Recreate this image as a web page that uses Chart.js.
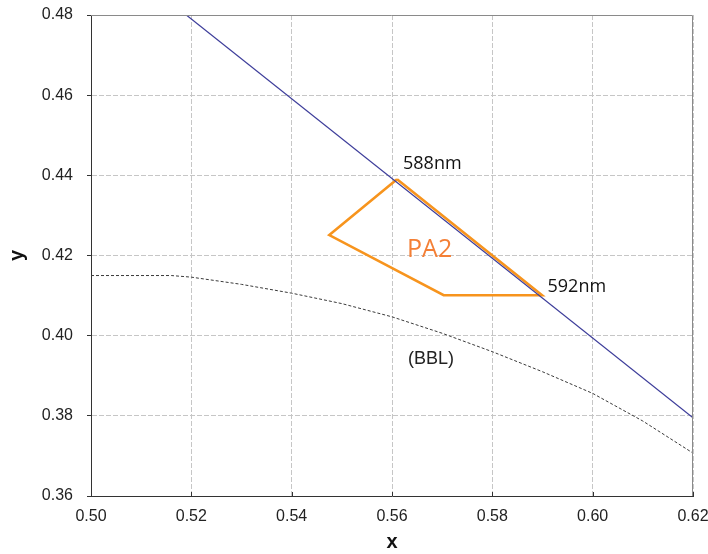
<!DOCTYPE html>
<html>
<head>
<meta charset="utf-8">
<script src="https://cdn.jsdelivr.net/npm/chart.js@4.4.0/dist/chart.umd.min.js"></script>
<style>
  html, body { margin: 0; padding: 0; background: #ffffff; }
  #wrap { width: 708px; height: 554px; }
</style>
</head>
<body>
<div id="wrap"><canvas id="c" width="708" height="554"></canvas></div>
<script>
// ---- Data ----
const xTicks = [0.50, 0.52, 0.54, 0.56, 0.58, 0.60, 0.62];
const yTicks = [0.36, 0.38, 0.40, 0.42, 0.44, 0.46, 0.48];

// Spectrum locus segment (blue line)
const locusX = [0.519, 0.620];
const locusY = [0.480, 0.3795];

// Black body locus (dotted)
const bblX = [0.500, 0.516, 0.520, 0.530, 0.540, 0.550, 0.560, 0.570, 0.580, 0.590, 0.600, 0.610, 0.620];
const bblY = [0.4150, 0.4150, 0.4146, 0.4128, 0.4106, 0.4080, 0.4047, 0.4006, 0.3960, 0.3910, 0.3856, 0.3787, 0.3707];

// PA2 region polygon (closed)
const pa2X = [0.5610, 0.5475, 0.5703, 0.5899, 0.5610];
const pa2Y = [0.4390, 0.4251, 0.4101, 0.4101, 0.4390];

// Text labels: text, x, y (data coords)
const labelTexts = ['588nm', '592nm', 'PA2', '(BBL)'];
const labelX = [0.5622, 0.5910, 0.5630, 0.5632];
const labelY = [0.4428, 0.4121, 0.4214, 0.3942];

const toPts = (xs, ys) => xs.map((x, i) => ({ x: x, y: ys[i] }));

const labelStyles = [
  { font: '18px "Open Sans", "Noto Sans", sans-serif', color: '#111111' },
  { font: '18px "Open Sans", "Noto Sans", sans-serif', color: '#111111' },
  { font: '25px "Open Sans", "Noto Sans", sans-serif', color: '#F47F35' },
  { font: '18px "Liberation Sans", Arial, sans-serif', color: '#222222' }
];

const overlayPlugin = {
  id: 'overlay',
  afterDraw(chart) {
    const { ctx, chartArea: a, scales: { x, y } } = chart;
    ctx.save();
    // frame (top & right)
    ctx.strokeStyle = '#8a8a8a';
    ctx.lineWidth = 1;
    ctx.beginPath();
    ctx.moveTo(a.left, a.top + 0.5);
    ctx.lineTo(a.right - 0.5, a.top + 0.5);
    ctx.lineTo(a.right - 0.5, a.bottom);
    ctx.stroke();
    // inward ticks on bottom axis
    ctx.strokeStyle = '#333333';
    ctx.beginPath();
    xTicks.forEach(v => {
      const px = Math.round(x.getPixelForValue(v)) + 0.5;
      ctx.moveTo(px, a.bottom);
      ctx.lineTo(px, a.bottom - 4);
    });
    ctx.stroke();
    // labels
    ctx.textAlign = 'left';
    ctx.textBaseline = 'middle';
    labelTexts.forEach((t, i) => {
      ctx.font = labelStyles[i].font;
      ctx.fillStyle = labelStyles[i].color;
      ctx.fillText(t, x.getPixelForValue(labelX[i]), y.getPixelForValue(labelY[i]));
    });
    ctx.restore();
  }
};

const tickFont = { family: '"Liberation Sans", Arial, sans-serif', size: 16 };
const titleFont = { family: '"Liberation Sans", Arial, sans-serif', size: 20, weight: 'bold' };

function zeroPad(s) {
  s.paddingTop = 0; s.paddingBottom = 0; s.paddingLeft = 0; s.paddingRight = 0;
}

new Chart(document.getElementById('c'), {
  type: 'scatter',
  data: {
    datasets: [
      {
        label: 'BBL',
        data: toPts(bblX, bblY),
        showLine: true,
        borderColor: '#3a3a3a',
        borderWidth: 1,
        borderDash: [3, 2],
        pointRadius: 0,
        fill: false,
        tension: 0
      },
      {
        label: 'Locus',
        data: toPts(locusX, locusY),
        showLine: true,
        borderColor: '#3d3d9a',
        borderWidth: 1.2,
        pointRadius: 0,
        fill: false
      },
      {
        label: 'PA2',
        data: toPts(pa2X, pa2Y),
        showLine: true,
        borderColor: '#F7941D',
        borderWidth: 2.6,
        borderJoinStyle: 'miter',
        pointRadius: 0,
        fill: false
      }
    ]
  },
  options: {
    responsive: false,
    animation: false,
    devicePixelRatio: 1,
    layout: { padding: { top: 15, right: 15, left: 0, bottom: 0 } },
    plugins: {
      legend: { display: false },
      tooltip: { enabled: false },
      title: { display: false }
    },
    scales: {
      x: {
        type: 'linear',
        min: 0.50,
        max: 0.62,
        afterBuildTicks(s) { s.ticks = xTicks.map(v => ({ value: v })); },
        afterFit(s) { s.height = 58; zeroPad(s); },
        ticks: {
          font: tickFont,
          color: '#222222',
          padding: 11,
          maxRotation: 0,
          callback: v => Number(v).toFixed(2)
        },
        grid: {
          color: '#c6c6c6',
          lineWidth: 1,
          drawTicks: false
        },
        border: { display: true, color: '#333333', width: 1, dash: [5, 2] },
        title: {
          display: true,
          text: 'x',
          font: titleFont,
          color: '#111111',
          padding: { top: 0, bottom: 0 }
        }
      },
      y: {
        type: 'linear',
        min: 0.36,
        max: 0.48,
        afterBuildTicks(s) { s.ticks = yTicks.map(v => ({ value: v })); },
        afterFit(s) { s.width = 91; zeroPad(s); },
        ticks: {
          font: tickFont,
          color: '#222222',
          padding: 14,
          callback: v => Number(v).toFixed(2)
        },
        grid: {
          color: '#c6c6c6',
          lineWidth: 1,
          drawTicks: true,
          tickLength: 4,
          tickColor: '#333333'
        },
        border: { display: true, color: '#333333', width: 1, dash: [5, 2] },
        title: {
          display: true,
          text: 'y',
          font: titleFont,
          color: '#111111',
          padding: { top: 5, bottom: 0 }
        }
      }
    }
  },
  plugins: [overlayPlugin]
});
</script>
</body>
</html>
